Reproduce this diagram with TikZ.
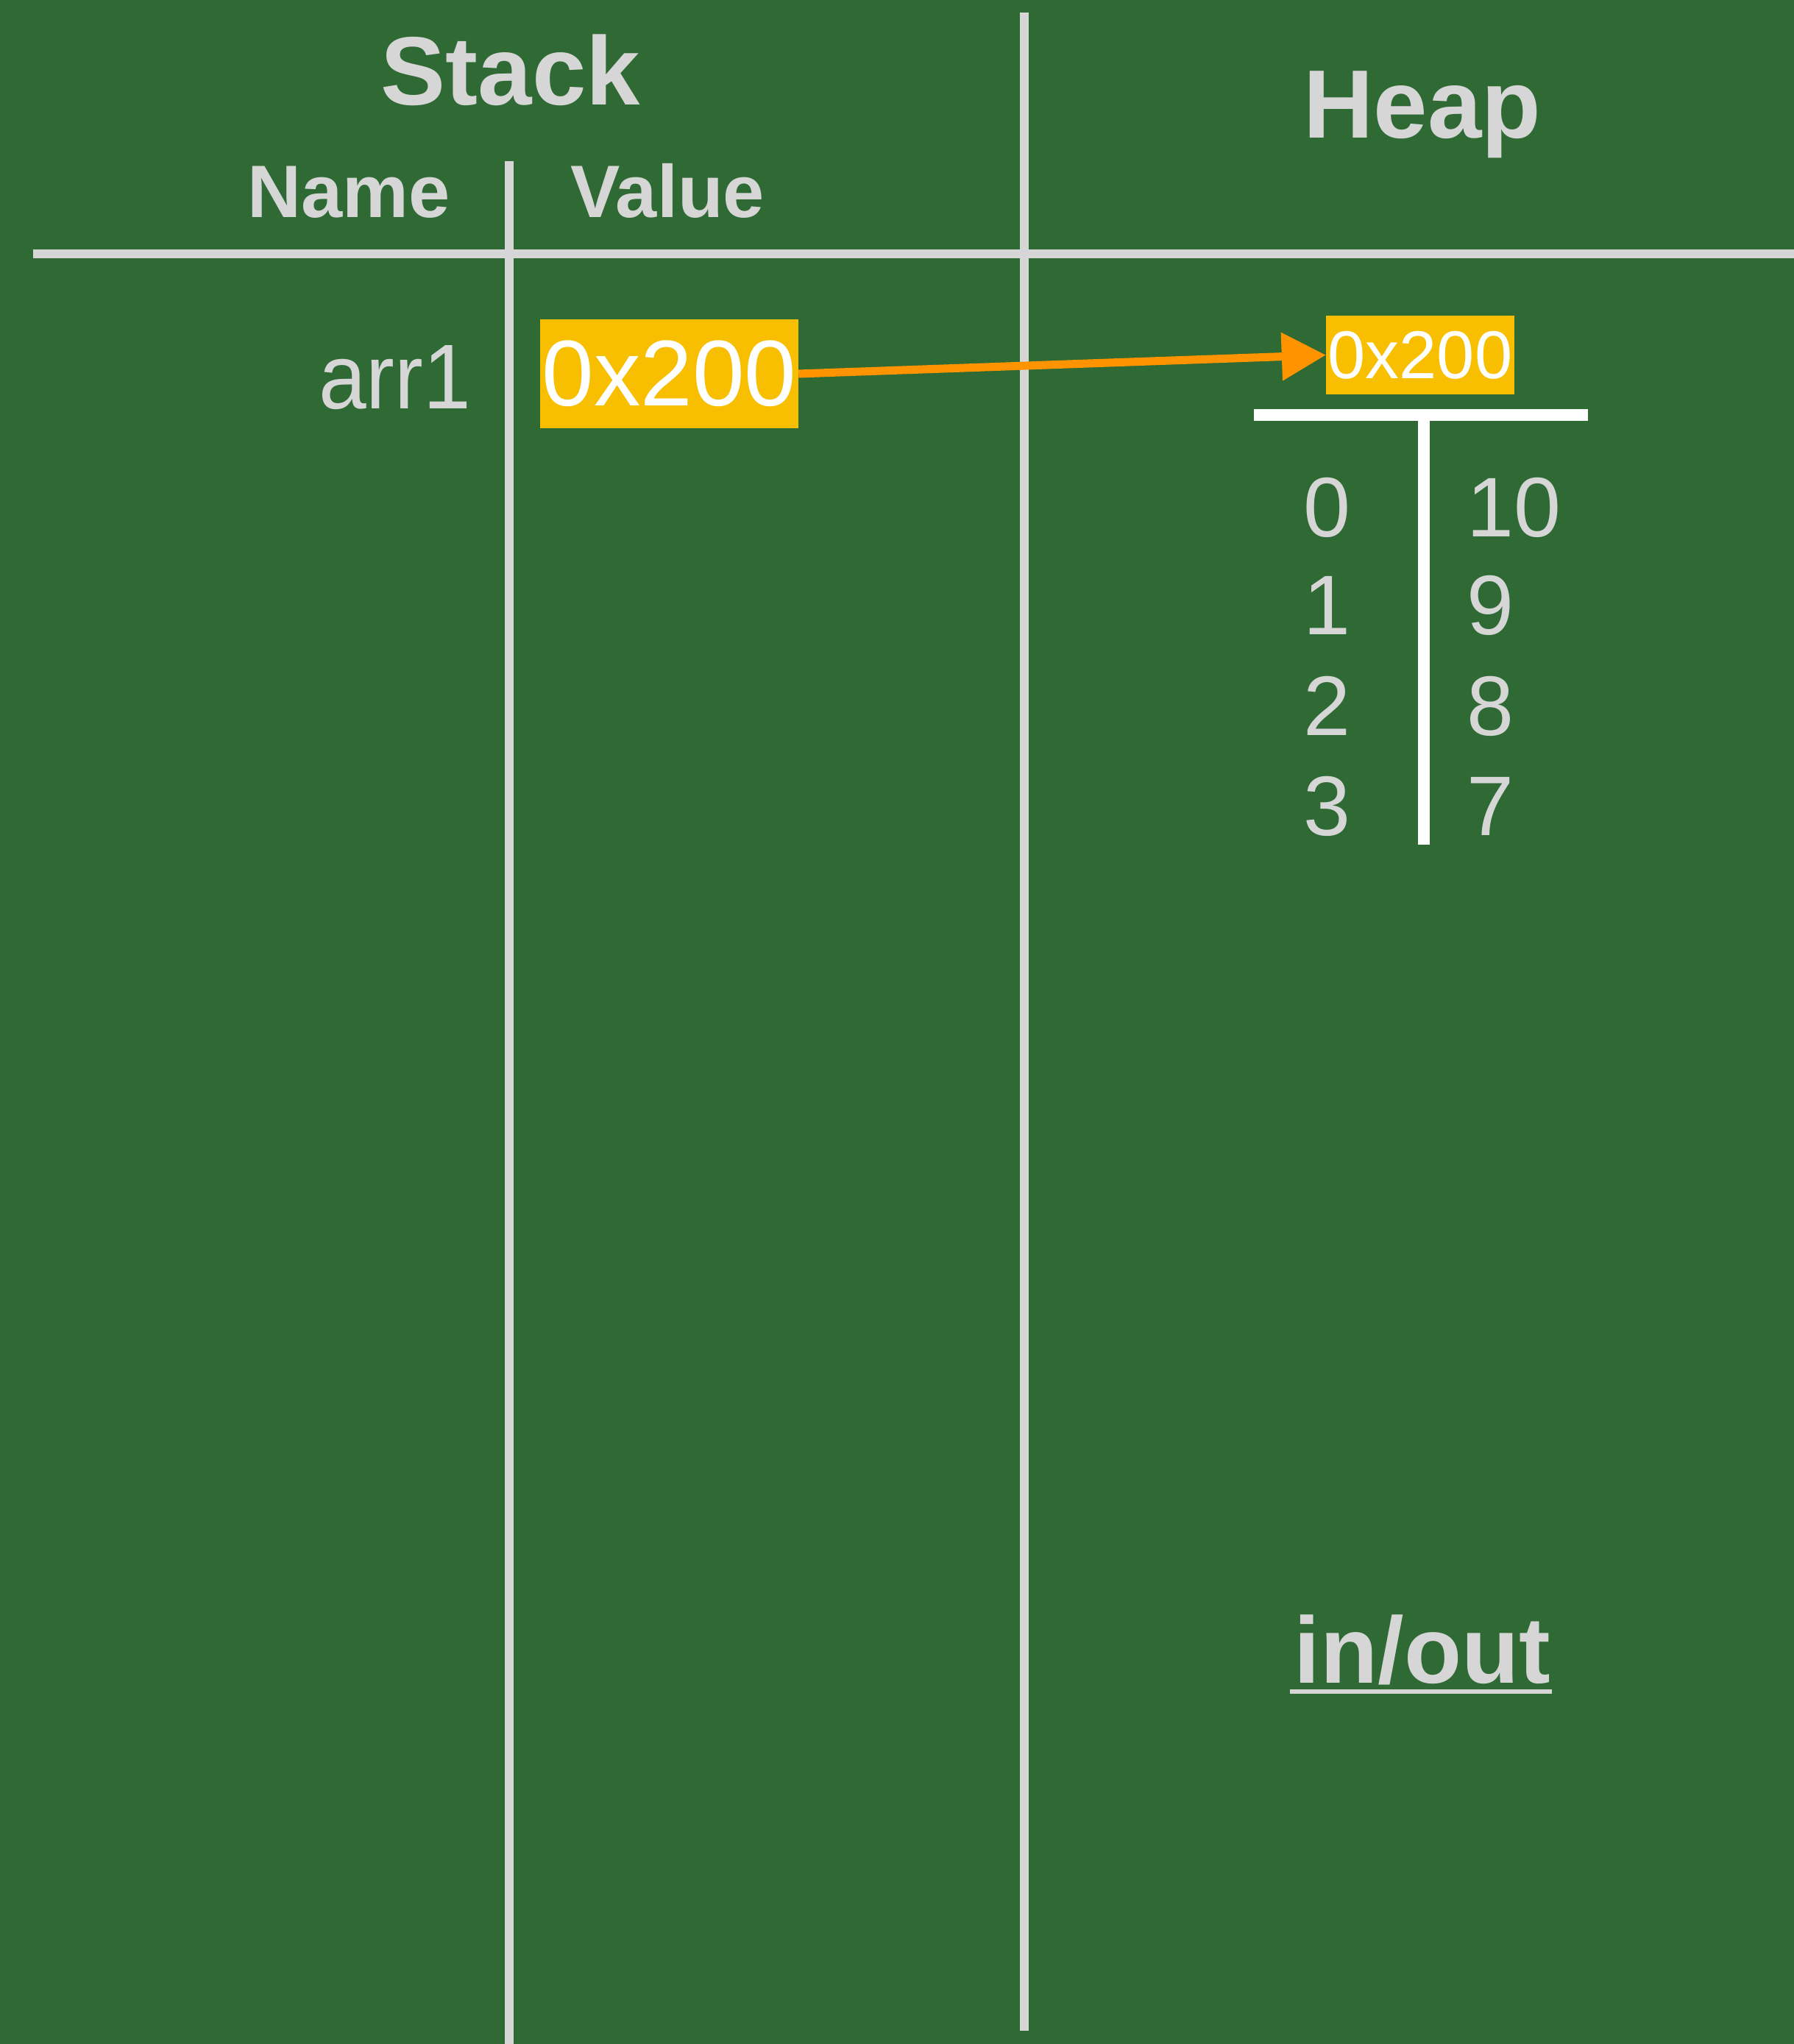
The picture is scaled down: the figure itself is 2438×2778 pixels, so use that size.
\documentclass[tikz,border=0pt]{standalone}
\usepackage{fontspec}
\setmainfont{Liberation Sans}
\usetikzlibrary{arrows.meta,calc}
\definecolor{bg}{RGB}{47,105,52}
\definecolor{chalk}{RGB}{214,214,214}
\definecolor{addr}{RGB}{248,190,0}
\definecolor{ptr}{RGB}{255,148,0}
\newcommand\fsz[1]{\fontsize{#1}{#1}\selectfont}
\begin{document}
\begin{tikzpicture}[x=1pt,y=-1pt,
  lbl/.style={inner sep=0pt, text=chalk},
  title/.style={lbl, anchor=base, font=\fsz{132}\bfseries},
  colhead/.style={lbl, anchor=base, font=\fsz{101}\bfseries},
  chalkline/.style={draw=chalk, line width=12pt},
  tline/.style={draw=white, line width=16pt},
  addrbox/.style={fill=addr, text=white, inner sep=0pt},
  idx/.style={lbl, font=\fsz{115}},
  ptrarrow/.style={draw=ptr, line width=11pt, -{Triangle[length=60pt,width=63pt]}}]
\useasboundingbox (0,0) rectangle (2438,2778);
\fill[bg] (0,0) rectangle (2438,2778);
% table lines
\draw[chalkline] (45,345) -- (2438,345);
\draw[chalkline] (692,219) -- (692,2778);
\draw[chalkline] (1392,17) -- (1392,2760);
% headings
\node[title] (stack) at (694,142) {Stack};
\node[title] (heap) at (1933,187) {Heap};
\node[colhead] (name) at (474,295) {Name};
\node[colhead] (value) at (907,295) {Value};
% stack entry
\node[lbl, anchor=base east, font=\fsz{125}] (arr) at (640,555) {\scalebox{0.93}[1]{arr1}};
\node[addrbox, minimum width=351pt, minimum height=148pt, font=\fsz{127}] (v1) at (909.5,508) {0x200};
% heap object
\node[addrbox, minimum width=256pt, minimum height=107pt, font=\fsz{92}] (h1) at (1930,482.5) {0x200};
\draw[tline] (1704,564) -- (2158,564);
\draw[tline] (1935,572) -- (1935,1148);
\node[idx, anchor=base] (i0) at (1803,729) {0};
\node[idx, anchor=base] (i1) at (1803,862) {1};
\node[idx, anchor=base] (i2) at (1803,999) {2};
\node[idx, anchor=base] (i3) at (1803,1135) {3};
\node[idx, anchor=base west] (e0) at (1993,729) {10};
\node[idx, anchor=base west] (e1) at (1993,862) {9};
\node[idx, anchor=base west] (e2) at (1993,999) {8};
\node[idx, anchor=base west] (e3) at (1993,1135) {7};
% pointer
\draw[ptrarrow] (v1.east) -- (h1.west);
% in/out
\node[lbl, anchor=base, font=\fsz{128}\bfseries] (io) at (1933,2287) {in/out};
\draw[draw=chalk, line width=6pt] ($(io.base west)+(-6,12)$) -- ($(io.base east)+(2,12)$);
\end{tikzpicture}
\end{document}
